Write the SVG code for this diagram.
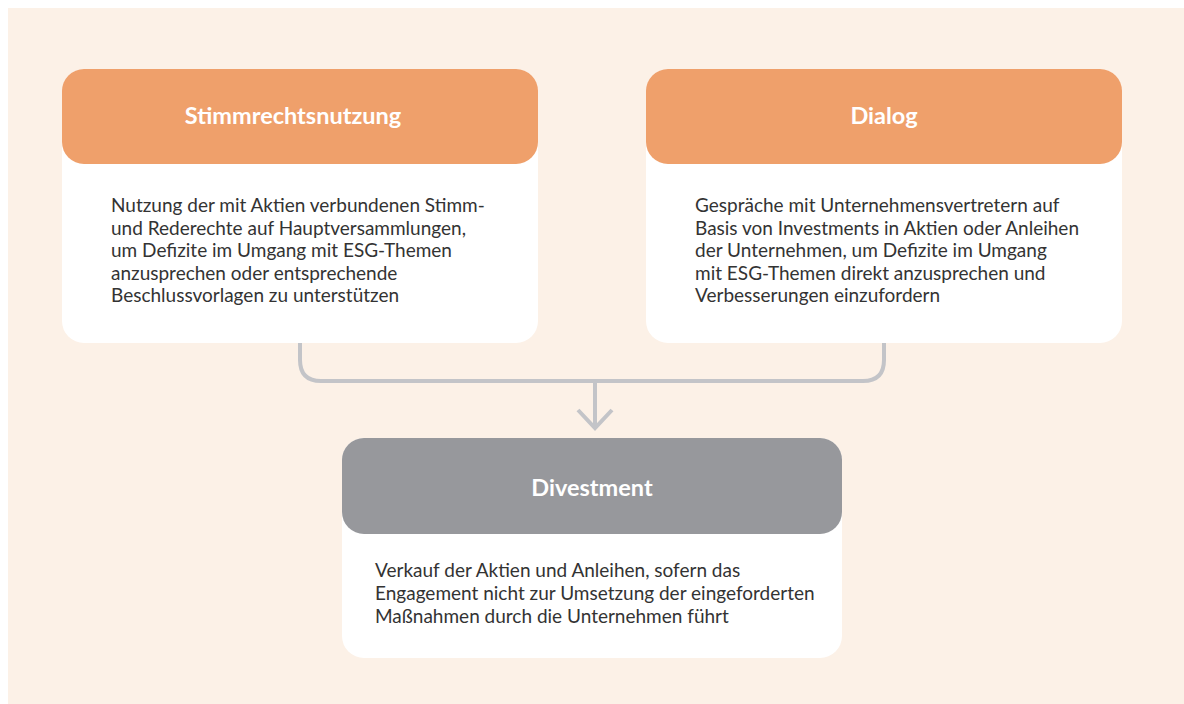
<svg xmlns="http://www.w3.org/2000/svg" width="1184" height="704" viewBox="0 0 1184 704">
<style>
.bg{fill:#fcf1e7}
.card{fill:#ffffff}
.hdr-o{fill:#efa06b}
.hdr-g{fill:#97989c}
.title{font-family:Lato,"Noto Sans",sans-serif;font-weight:bold;font-size:23.5px;fill:#ffffff;text-anchor:middle}
.body{font-family:Lato,"Noto Sans",sans-serif;font-size:19px;fill:#333333}
.conn{fill:none;stroke:#c3c4c8;stroke-width:4;stroke-linecap:butt;stroke-linejoin:miter}
</style>
<rect class="bg" x="8" y="8" width="1176" height="696"/>
<g id="connectors">
<path class="conn" d="M300,343 V360 Q300,381 321,381 H863 Q884,381 884,360 V343"/>
<path class="conn" d="M595,381 V428"/>
<path class="conn" d="M578,410 L595,428 L612,410"/>
</g>
<g id="stimmrechtsnutzung">
<rect class="card" x="62" y="69" width="476" height="274" rx="22"/>
<rect class="hdr-o" x="62" y="69" width="476" height="95" rx="22"/>
<text class="title" x="293" y="124">Stimmrechtsnutzung</text>
<text class="body" x="111" y="212">Nutzung der mit Aktien verbundenen Stimm-</text>
<text class="body" x="111" y="234.5">und Rederechte auf Hauptversammlungen,</text>
<text class="body" x="111" y="257">um Defizite im Umgang mit ESG-Themen</text>
<text class="body" x="111" y="279.5">anzusprechen oder entsprechende</text>
<text class="body" x="111" y="302">Beschlussvorlagen zu unterstützen</text>
</g>
<g id="dialog">
<rect class="card" x="646" y="69" width="476" height="274" rx="22"/>
<rect class="hdr-o" x="646" y="69" width="476" height="95" rx="22"/>
<text class="title" x="884" y="124">Dialog</text>
<text class="body" x="695" y="212">Gespräche mit Unternehmensvertretern auf</text>
<text class="body" x="695" y="234.5">Basis von Investments in Aktien oder Anleihen</text>
<text class="body" x="695" y="257">der Unternehmen, um Defizite im Umgang</text>
<text class="body" x="695" y="279.5">mit ESG-Themen direkt anzusprechen und</text>
<text class="body" x="695" y="302">Verbesserungen einzufordern</text>
</g>
<g id="divestment">
<rect class="card" x="342" y="438" width="500" height="220" rx="22"/>
<rect class="hdr-g" x="342" y="438" width="500" height="96" rx="22"/>
<text class="title" x="592" y="496">Divestment</text>
<text class="body" x="375" y="577">Verkauf der Aktien und Anleihen, sofern das</text>
<text class="body" x="375" y="600">Engagement nicht zur Umsetzung der eingeforderten</text>
<text class="body" x="375" y="623">Maßnahmen durch die Unternehmen führt</text>
</g>
</svg>
